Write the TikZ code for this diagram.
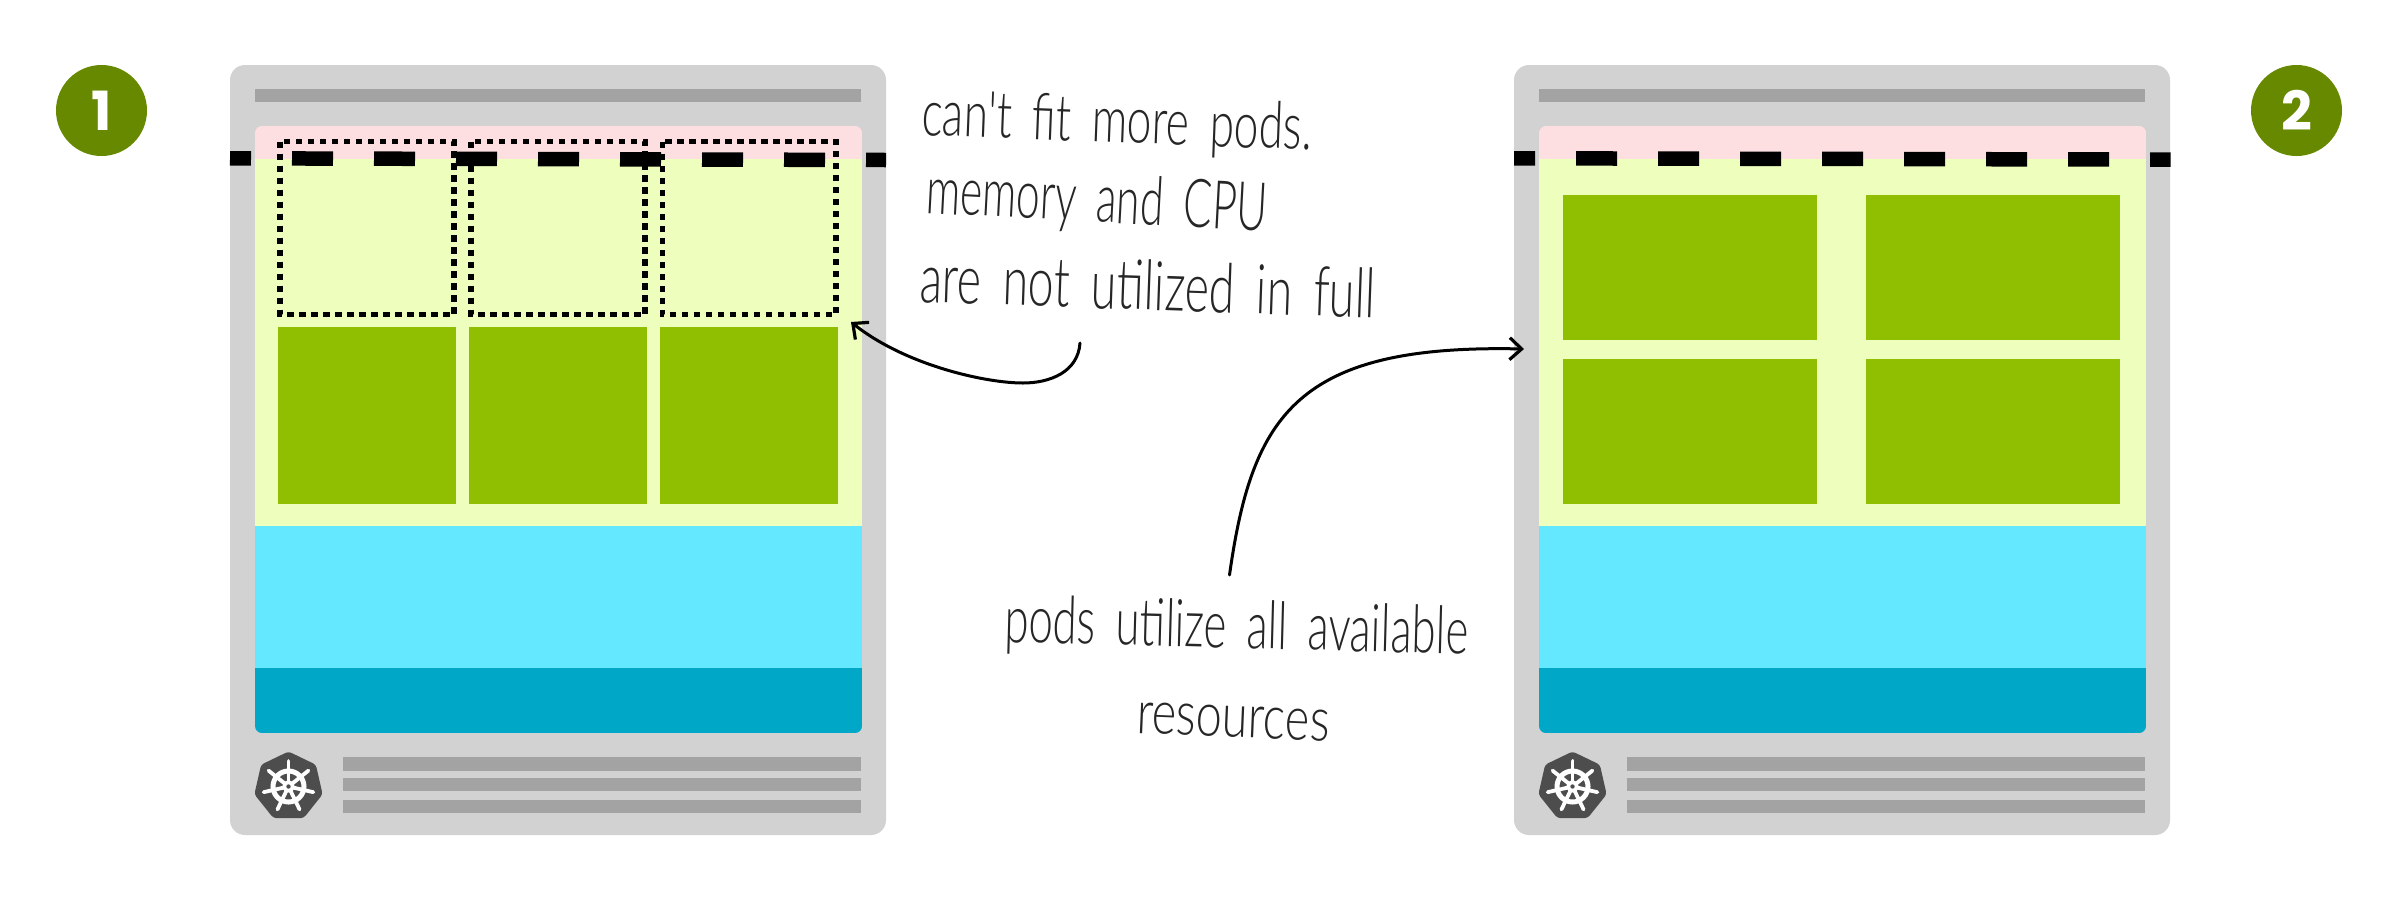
\documentclass[tikz,border=0pt]{standalone}
\usepackage{fontspec}
\usepackage{graphicx}
\usetikzlibrary{arrows.meta}
\newfontfamily\handfont[WordSpace=1.7]{Lato Light}
\newfontfamily\numfont{Poppins}[BoldFont={Poppins Bold}]
\definecolor{cardgrey}{HTML}{D2D2D2}
\definecolor{bargrey}{HTML}{A3A3A3}
\definecolor{podpink}{HTML}{FDDFE2}
\definecolor{lightgreen}{HTML}{EEFFBD}
\definecolor{podgreen}{HTML}{8FBF00}
\definecolor{lightblue}{HTML}{64E8FF}
\definecolor{darkblue}{HTML}{00A7C7}
\definecolor{badge}{HTML}{678900}
\definecolor{logogrey}{HTML}{4D4D4D}
\definecolor{handgrey}{HTML}{262626}
\newcommand{\handtext}[3]{\resizebox{#1pt}{#2pt}{\handfont\fontsize{50}{50}\selectfont #3}}
\tikzset{
  hand/.style={anchor=base west,inner sep=0pt,outer sep=0pt,text=handgrey},
  badgenode/.style={circle,fill=badge,minimum size=91pt,inner sep=0pt,text=white,font=\numfont\bfseries\fontsize{54}{54}\selectfont},
  pod/.style={fill=podgreen},
  slot/.style={draw=black,line width=5.5pt,dash pattern=on 6.5pt off 5.5pt},
  note/.style={draw=black,line width=3pt,line cap=round,-{Straight Barb[length=12pt,width=22pt,line width=3.2pt]}},
  limitline/.style={draw=black,line width=14.5pt,dash pattern=on 41pt off 41pt,dash phase=20pt},
  card/.pic={
    \fill[cardgrey] (230,65) [rounded corners=15pt] rectangle (886,835);
    \fill[bargrey] (255,89) rectangle (861,102);
    \begin{scope}
      \clip[rounded corners=7pt] (255,126) rectangle (862,733);
      \fill[podpink] (255,126) rectangle (862,159);
      \fill[lightgreen] (255,159) rectangle (862,526);
      \fill[lightblue] (255,526) rectangle (862,668);
      \fill[darkblue] (255,668) rectangle (862,733);
    \end{scope}
    \fill[bargrey] (343,757) rectangle (861,771);
    \fill[bargrey] (343,778) rectangle (861,791);
    \fill[bargrey] (343,800) rectangle (861,813);
    \begin{scope}[shift={(288.5,786.5)}]
      \fill[logogrey,rounded corners=3pt]
        ({35*cos(-90)},{35*sin(-90)})
        \foreach \k in {1,...,6}{ -- ({35*cos(-90+\k*360/7)},{35*sin(-90+\k*360/7)}) } -- cycle;
      \foreach \k in {0,...,6}
        \draw[white,line width=3.8pt,line cap=round] (0,0) -- ({25.5*cos(-90+\k*360/7)},{25.5*sin(-90+\k*360/7)});
      \draw[white,line width=5pt] (0,0) circle (15.5pt);
      \fill[white] (0,0) circle (6pt);
      \fill[logogrey] (0,0) circle (2.2pt);
    \end{scope}
  },
}
\begin{document}
\begin{tikzpicture}[x=1pt,y=-1pt]
\useasboundingbox (0,0) rectangle (2400,900);
\fill[white] (0,0) rectangle (2400,900);
\node[badgenode] (one) at (101.5,110.5) {1};
\node[badgenode] (two) at (2296.5,110.5) {2};
\pic at (0,0) {card};
\pic at (1284,0) {card};
% pods, first card
\fill[pod] (278,327) rectangle (456,504);
\fill[pod] (469,327) rectangle (647,504);
\fill[pod] (660,327) rectangle (838,504);
% pods, second card
\fill[pod] (1563,195) rectangle (1817,340);
\fill[pod] (1866,195) rectangle (2120,340);
\fill[pod] (1563,359) rectangle (1817,504);
\fill[pod] (1866,359) rectangle (2120,504);
% limit lines
\draw[limitline] (230,158.3) -- (886,160);
\draw[limitline] (1514,158.3) -- (2170.5,159.6);
% dotted slots
\draw[slot] (280,141.5) rectangle (454,314.5);
\draw[slot] (471,141.5) rectangle (645,314.5);
\draw[slot] (662.5,141.5) rectangle (836,314.5);
% notes
\node[hand,rotate=-2.2] (n1) at (921,135) {\handtext{391}{47}{can't fit more pods.}};
\node[hand,rotate=-3] (n2) at (925,213) {\handtext{342}{49}{memory and CPU}};
\node[hand,rotate=-2] (n3) at (919,302) {\handtext{456}{50}{are not utilized in full}};
\node[hand,rotate=-1.5] (n4) at (1004,642) {\handtext{464}{48}{pods utilize all available}};
\node[hand,rotate=-2.4] (n5) at (1136,733) {\handtext{193}{31}{resources}};
\coordinate (a1s) at (1080,343);
\coordinate (a1e) at (851,322);
\coordinate (a2s) at (1229.5,575);
\coordinate (a2e) at (1524,349);
\draw[note] (a1s) .. controls (1078,372) and (1050,383) .. (1023,383) .. controls (985,383) and (905,365) .. (a1e);
\draw[note] (a2s) .. controls (1252,415) and (1297,344) .. (a2e);
\end{tikzpicture}
\end{document}
